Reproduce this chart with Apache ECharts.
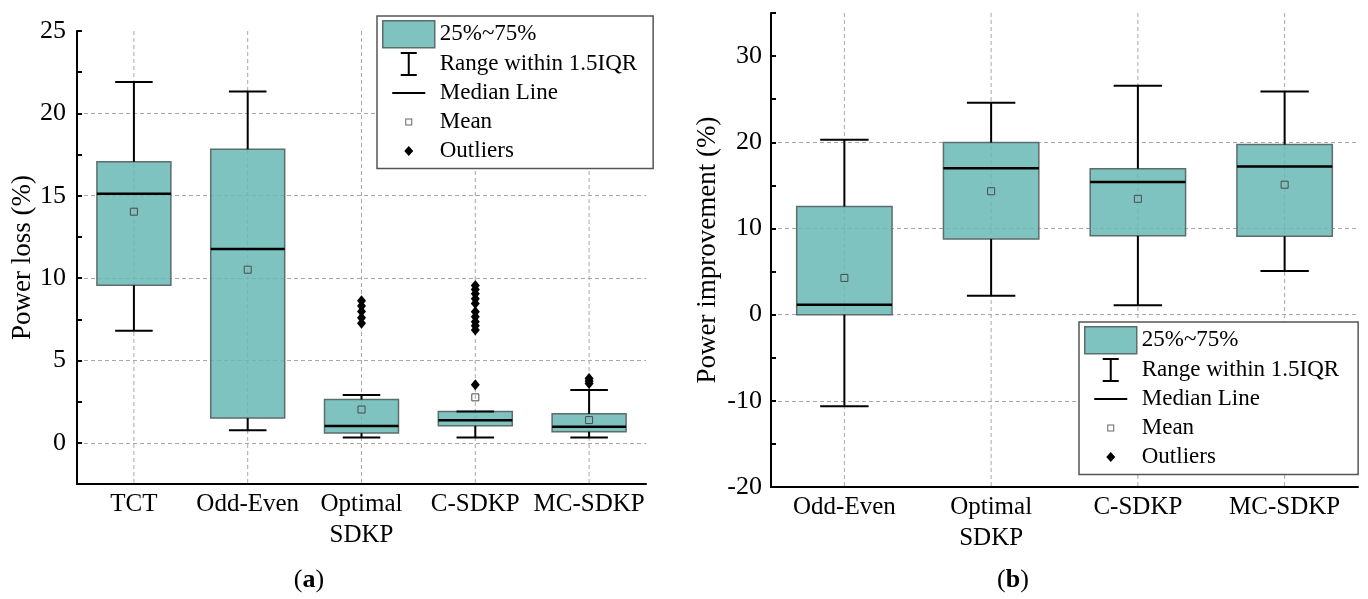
<!DOCTYPE html>
<html>
<head>
<meta charset="utf-8">
<script src="https://cdn.jsdelivr.net/npm/echarts@6/dist/echarts.min.js"></script>
<style>
  html, body { margin: 0; padding: 0; background: #fff; }
  #chart { width: 1368px; height: 599px; }
</style>
</head>
<body>
<div id="chart"></div>
<script>
// ---- Panel (a): power loss (%) per strategy ----
const lossCategories = ['TCT', 'Odd-Even', 'Optimal\nSDKP', 'C-SDKP', 'MC-SDKP'];
const lossMin    = [6.8, 0.76, 0.32, 0.32, 0.32];
const lossQ1     = [9.56, 1.5, 0.59, 1.03, 0.67];
const lossMedian = [15.12, 11.76, 1.02, 1.37, 0.97];
const lossQ3     = [17.06, 17.82, 2.63, 1.9, 1.76];
const lossMax    = [21.9, 21.32, 2.9, 1.9, 3.21];
const lossMean   = [14.03, 10.51, 2.02, 2.76, 1.38];
const lossOutliers = [
  [],
  [],
  [8.63, 8.31, 7.97, 7.6, 7.26],
  [9.55, 9.3, 9.05, 8.75, 8.45, 7.95, 7.65, 7.35, 7.1, 6.85, 3.52],
  [3.9, 3.75, 3.6]
];
const lossTicks = { min: -2.5, max: 25, minorStep: 2.5 };

// ---- Panel (b): power improvement (%) per strategy ----
const gainCategories = ['Odd-Even', 'Optimal\nSDKP', 'C-SDKP', 'MC-SDKP'];
const gainMin    = [-10.64, 2.2, 1.1, 5.06];
const gainQ1     = [0, 8.78, 9.14, 9.09];
const gainMedian = [1.15, 16.98, 15.39, 17.2];
const gainQ3     = [12.55, 19.96, 16.94, 19.73];
const gainMax    = [20.3, 24.6, 26.56, 25.9];
const gainMean   = [4.26, 14.32, 13.44, 15.08];
const gainTicks = { min: -20, max: 35, step: 10, minorStep: 5, labelled: [-20, -10, 0, 10, 20, 30] };

// ---- styling ----
const FONT = 'Liberation Serif';
const INK = '#000';
const BOX_FILL = 'rgba(105,185,181,0.85)';
const BOX_FILL_SOLID = '#7fc3c0';
const BOX_EDGE = '#5d6d6c';
const GRID_LINE = '#a8a8a8';
const DASH = [4, 3];
const BOX_FRAC = 0.65;
const CAP_FRAC = 0.33;

// legend glyphs, all laid out in a 52 x 27 cell (tiny corner dots fix the cell size)
const CELL = 'M0 0h0.01v0.01z M52 27h-0.01v-0.01z ';
const ICON_RANGE = 'path://' + CELL + 'M18 1.5H34V3.5H27V23.5H34V25.5H18V23.5H25V3.5H18Z';
const ICON_MEDIAN = 'path://' + CELL + 'M9.5 12.5H42.5V14.5H9.5Z';
const ICON_MEAN = 'path://' + CELL + 'M22.5 10H29.5V17H22.5Z M23.5 11V16H28.5V11Z';
const ICON_OUTLIER = 'path://' + CELL + 'M26 8.5L30.5 13.5L26 18.5L21.5 13.5Z';

// ---- renderers ----
function renderBox(params, api) {
  const i = api.value(0);
  const lo = api.coord([i, api.value(1)]);
  const hi = api.coord([i, api.value(2)]);
  const w = api.size([1, 0])[0] * BOX_FRAC;
  return {
    type: 'rect',
    shape: { x: lo[0] - w / 2, y: hi[1], width: w, height: lo[1] - hi[1] },
    style: { fill: BOX_FILL, stroke: BOX_EDGE, lineWidth: 1.5 }
  };
}

function renderWhisker(params, api) {
  const i = api.value(0);
  const pMin = api.coord([i, api.value(1)]);
  const pQ1 = api.coord([i, api.value(2)]);
  const pQ3 = api.coord([i, api.value(3)]);
  const pMax = api.coord([i, api.value(4)]);
  const c = api.size([1, 0])[0] * CAP_FRAC / 2;
  const x = pMin[0];
  const st = { stroke: INK, lineWidth: 2, fill: null };
  return {
    type: 'group',
    children: [
      { type: 'line', shape: { x1: x, y1: pQ3[1], x2: x, y2: pMax[1] }, style: st },
      { type: 'line', shape: { x1: x, y1: pQ1[1], x2: x, y2: pMin[1] }, style: st },
      { type: 'line', shape: { x1: x - c, y1: pMax[1], x2: x + c, y2: pMax[1] }, style: st },
      { type: 'line', shape: { x1: x - c, y1: pMin[1], x2: x + c, y2: pMin[1] }, style: st }
    ]
  };
}

function renderMedian(params, api) {
  const i = api.value(0);
  const p = api.coord([i, api.value(1)]);
  const w = api.size([1, 0])[0] * BOX_FRAC;
  return {
    type: 'line',
    shape: { x1: p[0] - w / 2, y1: p[1], x2: p[0] + w / 2, y2: p[1] },
    style: { stroke: INK, lineWidth: 2.5, fill: null }
  };
}

// dashed vertical guide at each category centre
function renderGuide(params, api) {
  const x = api.coord([api.value(0), 0])[0];
  const cs = params.coordSys;
  return {
    type: 'line',
    shape: { x1: x, y1: cs.y, x2: x, y2: cs.y + cs.height },
    style: { stroke: GRID_LINE, lineWidth: 1, lineDash: DASH, fill: null }
  };
}

// ---- series builders ----
function seriesFor(gridIdx, cats, mins, q1s, meds, q3s, maxs, means, outliers) {
  const idx = cats.map((_, i) => i);
  const list = [
    {
      type: 'custom', name: 'guide', xAxisIndex: gridIdx, yAxisIndex: gridIdx * 2, z: 1, silent: true,
      renderItem: renderGuide, encode: { x: 0, y: 1 },
      data: idx.map(i => [i, 0])
    },
    {
      type: 'custom', name: '25%~75%', xAxisIndex: gridIdx, yAxisIndex: gridIdx * 2, z: 2,
      renderItem: renderBox, encode: { x: 0, y: [1, 2] },
      data: idx.map(i => [i, q1s[i], q3s[i]])
    },
    {
      type: 'custom', name: 'Range within 1.5IQR', xAxisIndex: gridIdx, yAxisIndex: gridIdx * 2, z: 3,
      renderItem: renderWhisker, encode: { x: 0, y: [1, 2, 3, 4] },
      data: idx.map(i => [i, mins[i], q1s[i], q3s[i], maxs[i]])
    },
    {
      type: 'custom', name: 'Median Line', xAxisIndex: gridIdx, yAxisIndex: gridIdx * 2, z: 4,
      renderItem: renderMedian, encode: { x: 0, y: 1 },
      data: idx.map(i => [i, meds[i]])
    },
    {
      type: 'scatter', name: 'Mean', xAxisIndex: gridIdx, yAxisIndex: gridIdx * 2, z: 5,
      symbol: 'rect', symbolSize: 7,
      itemStyle: { color: 'transparent', borderColor: '#4a4a4a', borderWidth: 1, opacity: 1 },
      data: idx.map(i => [i, means[i]])
    }
  ];
  if (outliers) {
    const pts = [];
    outliers.forEach((vals, i) => vals.forEach(v => pts.push([i, v])));
    list.push({
      type: 'scatter', name: 'Outliers', xAxisIndex: gridIdx, yAxisIndex: gridIdx * 2, z: 5,
      symbol: 'diamond', symbolSize: [9, 11],
      itemStyle: { color: '#000', opacity: 1 },
      data: pts
    });
  }
  return list;
}

function legendAt(left, top, padRight) {
  return {
    orient: 'vertical', left: left, top: top, z: 10,
    itemWidth: 52, itemHeight: 27, itemGap: 2,
    padding: [4, padRight, 4, 5],
    backgroundColor: '#fff', borderColor: '#555', borderWidth: 1.5,
    selectedMode: false,
    textStyle: { fontFamily: FONT, fontSize: 23, color: INK },
    data: [
      { name: '25%~75%', icon: 'rect', itemStyle: { color: BOX_FILL_SOLID, borderColor: BOX_EDGE, borderWidth: 1.5 } },
      { name: 'Range within 1.5IQR', icon: ICON_RANGE, itemStyle: { color: INK, borderWidth: 0 } },
      { name: 'Median Line', icon: ICON_MEDIAN, itemStyle: { color: INK, borderWidth: 0 } },
      { name: 'Mean', icon: ICON_MEAN, itemStyle: { color: '#666', borderWidth: 0 } },
      { name: 'Outliers', icon: ICON_OUTLIER, itemStyle: { color: '#000', borderWidth: 0 } }
    ]
  };
}

function categoryAxis(gridIdx, cats) {
  return {
    type: 'category', gridIndex: gridIdx, data: cats, boundaryGap: true,
    axisLine: { onZero: false, lineStyle: { color: INK, width: 2 } },
    axisTick: { inside: true, alignWithLabel: true, length: 7, lineStyle: { color: INK, width: 2 } },
    axisLabel: { fontFamily: FONT, fontSize: 25, color: INK, lineHeight: 31, margin: 5, interval: 0 },
    splitLine: { show: false }
  };
}

const chart = echarts.init(document.getElementById('chart'), null, { renderer: 'canvas' });

chart.setOption({
  backgroundColor: '#fff',
  animation: false,
  title: [
    { text: '({b|a})', left: 304, top: 562, textAlign: 'center',
      textStyle: { fontFamily: FONT, fontSize: 26, fontWeight: 'normal', color: INK,
        rich: { b: { fontFamily: FONT, fontSize: 26, fontWeight: 'bold', color: INK } } } },
    { text: '({b|b})', left: 1008, top: 562, textAlign: 'center',
      textStyle: { fontFamily: FONT, fontSize: 26, fontWeight: 'normal', color: INK,
        rich: { b: { fontFamily: FONT, fontSize: 26, fontWeight: 'bold', color: INK } } } }
  ],
  legend: [legendAt(377, 16, 16), legendAt(1079, 322, 19)],
  grid: [
    { left: 77, top: 31, width: 569, height: 453, containLabel: false },
    { left: 771, top: 13, width: 587, height: 474, containLabel: false }
  ],
  xAxis: [categoryAxis(0, lossCategories), categoryAxis(1, gainCategories)],
  yAxis: [
    {
      type: 'value', gridIndex: 0, min: lossTicks.min, max: lossTicks.max, splitNumber: 5,
      name: 'Power loss (%)', nameLocation: 'middle', nameGap: 39,
      nameTextStyle: { fontFamily: FONT, fontSize: 27, color: INK },
      axisLine: { show: true, onZero: false, lineStyle: { color: INK, width: 2 } },
      axisTick: { inside: true, length: 8, lineStyle: { color: INK, width: 2 } },
      axisLabel: { fontFamily: FONT, fontSize: 26, color: INK, margin: 11, showMinLabel: false },
      splitLine: { show: true, showMinLine: false, showMaxLine: false, lineStyle: { color: GRID_LINE, type: DASH, width: 1 } }
    },
    {
      type: 'value', gridIndex: 0, position: 'left', min: lossTicks.min, max: lossTicks.max, interval: lossTicks.minorStep,
      axisLine: { show: false, onZero: false },
      axisTick: { show: true, inside: true, length: 5, lineStyle: { color: INK, width: 2 } },
      axisLabel: { show: false }, splitLine: { show: false }
    },
    {
      type: 'value', gridIndex: 1, min: gainTicks.min, max: gainTicks.max, interval: gainTicks.step,
      name: 'Power improvement (%)', nameLocation: 'middle', nameGap: 50,
      nameTextStyle: { fontFamily: FONT, fontSize: 27, color: INK },
      axisLine: { show: true, onZero: false, lineStyle: { color: INK, width: 2 } },
      axisTick: { inside: true, length: 8, customValues: gainTicks.labelled, lineStyle: { color: INK, width: 2 } },
      axisLabel: { fontFamily: FONT, fontSize: 26, color: INK, margin: 9, showMaxLabel: false },
      splitLine: { show: true, showMinLine: false, showMaxLine: false, lineStyle: { color: GRID_LINE, type: DASH, width: 1 } }
    },
    {
      type: 'value', gridIndex: 1, position: 'left', min: gainTicks.min, max: gainTicks.max, interval: gainTicks.minorStep,
      axisLine: { show: false, onZero: false },
      axisTick: { show: true, inside: true, length: 5, lineStyle: { color: INK, width: 2 } },
      axisLabel: { show: false }, splitLine: { show: false }
    }
  ],
  series: [
    ...seriesFor(0, lossCategories, lossMin, lossQ1, lossMedian, lossQ3, lossMax, lossMean, lossOutliers),
    ...seriesFor(1, gainCategories, gainMin, gainQ1, gainMedian, gainQ3, gainMax, gainMean, null)
  ]
});
</script>
</body>
</html>
